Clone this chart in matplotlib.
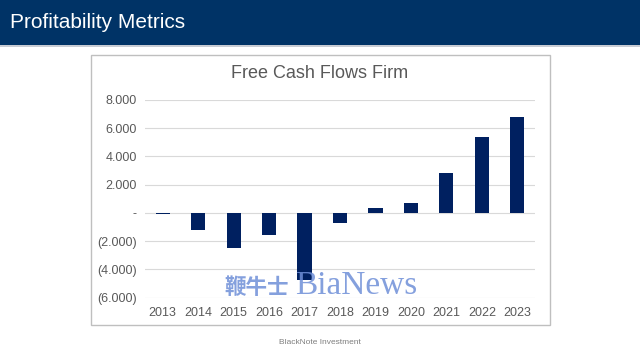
import matplotlib
matplotlib.use("Agg")
import matplotlib.pyplot as plt
from matplotlib.patches import Rectangle
from matplotlib.ticker import FuncFormatter

years = ["2013", "2014", "2015", "2016", "2017", "2018", "2019", "2020", "2021", "2022", "2023"]
fcff = [-80, -1230, -2460, -1540, -4730, -690, 355, 710, 2860, 5370, 6790]
yticks = [-6000, -4000, -2000, 0, 2000, 4000, 6000, 8000]

plt.rcParams['font.family'] = ['Liberation Sans', 'DejaVu Sans']

W, H = 640, 360
fig = plt.figure(figsize=(6.4, 3.6), dpi=100)
fig.patch.set_facecolor('white')

# header band
fig.patches.append(Rectangle((0, 1 - 45 / H), 1, 45 / H, transform=fig.transFigure,
                             facecolor='#003366', edgecolor='none', zorder=-2))
fig.patches.append(Rectangle((0, 1 - 47 / H), 1, 2 / H, transform=fig.transFigure,
                             facecolor='#c8ccd4', edgecolor='none', zorder=-2))
fig.text(10 / W, 1 - 22 / H, "Profitability Metrics", color='white', fontsize=15,
         va='center', ha='left')

# chart box
fig.patches.append(Rectangle((91 / W, 1 - 325 / H), (550 - 91) / W, (325 - 55) / H,
                             transform=fig.transFigure, facecolor='white',
                             edgecolor='#bfbfbf', linewidth=1.0, zorder=-1))
fig.text(320 / W, 1 - 74 / H, "Free Cash Flows Firm", color='#595959', fontsize=13,
         ha='center', va='center')

ax = fig.add_axes([145 / W, 1 - 297.5 / H, (535 - 145) / W, (297.5 - 100) / H])
ax.set_zorder(5)
ax.set_facecolor('none')
x = list(range(len(years)))
ax.bar(x, fcff, width=0.4, color='#002060', zorder=3)
ax.set_ylim(-6000, 8000)
ax.set_xlim(-0.5, len(years) - 0.5)
ax.set_yticks(yticks)
ax.yaxis.set_major_formatter(FuncFormatter(
    lambda v, p: '-' if v == 0 else (f"({abs(v):,.0f})".replace(',', '.') if v < 0 else f"{v:,.0f}".replace(',', '.'))))
ax.grid(axis='y', color='#d9d9d9', linewidth=0.8, zorder=0)
for s in ax.spines.values():
    s.set_visible(False)
ax.tick_params(axis='both', length=0, labelsize=9, labelcolor='#595959')
ax.tick_params(axis='y', pad=6)
ax.tick_params(axis='x', pad=7)
ax.set_xticks(x)
ax.set_xticklabels(years)

# watermark
fig.text(224 / W, 1 - 287 / H, "鞭牛士", family=['Noto Sans CJK SC'], fontsize=15.5,
         color='#6f8fd8', alpha=0.85, ha='left', va='center', weight='bold', zorder=10)
fig.text(295 / W, 1 - 286 / H, "BiaNews", family=['Liberation Serif'], fontsize=24,
         color='#6f8fd8', alpha=0.85, ha='left', va='center', zorder=10)

fig.text(320 / W, 1 - 343 / H, "BlackNote Investment", color='#7f7f7f', fontsize=6,
         ha='center', va='center')

fig.savefig("out.png", dpi=100)
